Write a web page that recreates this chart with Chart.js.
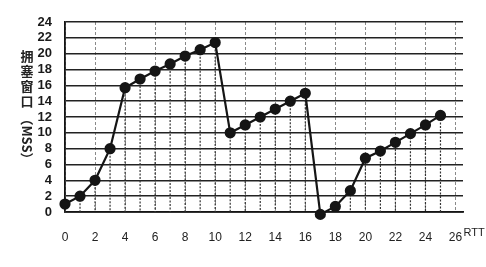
<!DOCTYPE html>
<html>
<head>
<meta charset="utf-8">
<script src="https://cdn.jsdelivr.net/npm/chart.js@4"></script>
<style>
  html, body { margin: 0; padding: 0; background: #fff; }
</style>
</head>
<body>
<canvas id="c" width="486" height="267"></canvas>
<script>
// RTT rounds and congestion window
const rtt = [0, 1, 2, 3, 4, 5, 6, 7, 8, 9, 10, 11, 12, 13, 14, 15, 16, 17, 18, 19, 20, 21, 22, 23, 24, 25];
const cwnd = [1, 2, 4, 8, 15.7, 16.8, 17.8, 18.7, 19.7, 20.5, 21.4, 10, 11, 12, 13, 14, 15, -0.3, 0.7, 2.7, 6.8, 7.7, 8.8, 9.9, 11, 12.2];
const xUnit = 'RTT';
const yTitleCjk = '拥塞窗口';
const yTitleUnit = '（MSS）';

const ink = '#151515';

// dotted drop line from every point down to the x axis
const dropLines = {
  id: 'dropLines',
  beforeDatasetsDraw(chart) {
    const ctx = chart.ctx;
    const bottom = chart.chartArea.bottom;
    const meta = chart.getDatasetMeta(0);
    ctx.save();
    ctx.strokeStyle = '#333';
    ctx.lineWidth = 1.2;
    ctx.setLineDash([2, 1.5]);
    meta.data.forEach(p => {
      ctx.beginPath();
      ctx.moveTo(p.x, p.y);
      ctx.lineTo(p.x, bottom);
      ctx.stroke();
    });
    ctx.restore();
  }
};

// "RTT" unit and the vertical y title (upright CJK, unit turned clockwise)
const labels = {
  id: 'labels',
  afterDraw(chart) {
    const ctx = chart.ctx;
    const x = chart.scales.x;
    ctx.save();
    ctx.font = '11px "Liberation Sans", sans-serif';
    ctx.fillStyle = '#222';
    ctx.textAlign = 'left';
    ctx.textBaseline = 'middle';
    ctx.fillText(xUnit, x.getPixelForValue(26) + 8, 233);

    ctx.font = 'bold 13px "Noto Sans CJK SC", sans-serif';
    ctx.textAlign = 'center';
    ctx.fillStyle = '#222';
    let cy = 56;
    for (const ch of yTitleCjk) {
      ctx.fillText(ch, 27, cy);
      cy += 15;
    }
    ctx.translate(27, 139);
    ctx.rotate(Math.PI / 2);
    ctx.fillText(yTitleUnit, 0, 0);
    ctx.restore();
  }
};

new Chart(document.getElementById('c'), {
  type: 'line',
  data: {
    labels: rtt,
    datasets: [{
      data: rtt.map((r, i) => ({ x: r, y: cwnd[i] })),
      borderColor: ink,
      backgroundColor: ink,
      borderWidth: 2.2,
      pointRadius: 4.5,
      pointBackgroundColor: ink,
      pointBorderColor: ink,
      tension: 0,
      clip: false
    }]
  },
  options: {
    responsive: false,
    animation: false,
    layout: { padding: { left: 0, top: 22, right: 23, bottom: 0 } },
    plugins: { legend: { display: false }, tooltip: { enabled: false } },
    scales: {
      x: {
        type: 'linear',
        min: 0,
        max: 26.5,
        afterFit: s => { s.height = 55; },
        ticks: {
          stepSize: 2,
          autoSkip: false,
          includeBounds: false,
          padding: 18,
          color: '#222',
          font: { family: 'Liberation Sans', size: 12 }
        },
        grid: { color: '#8a8a8a', lineWidth: 1, drawTicks: false },
        border: { color: ink, width: 1.8, dash: [3, 2] }
      },
      y: {
        min: 0,
        max: 24,
        afterFit: s => { s.width = 65; },
        ticks: {
          stepSize: 2,
          autoSkip: false,
          padding: 13,
          color: '#1a1a1a',
          font: { family: 'Liberation Sans', size: 13, weight: 'bold' }
        },
        grid: { color: '#222', lineWidth: 1.6, drawTicks: false },
        border: { color: ink, width: 1.8 }
      }
    }
  },
  plugins: [dropLines, labels]
});
</script>
</body>
</html>
